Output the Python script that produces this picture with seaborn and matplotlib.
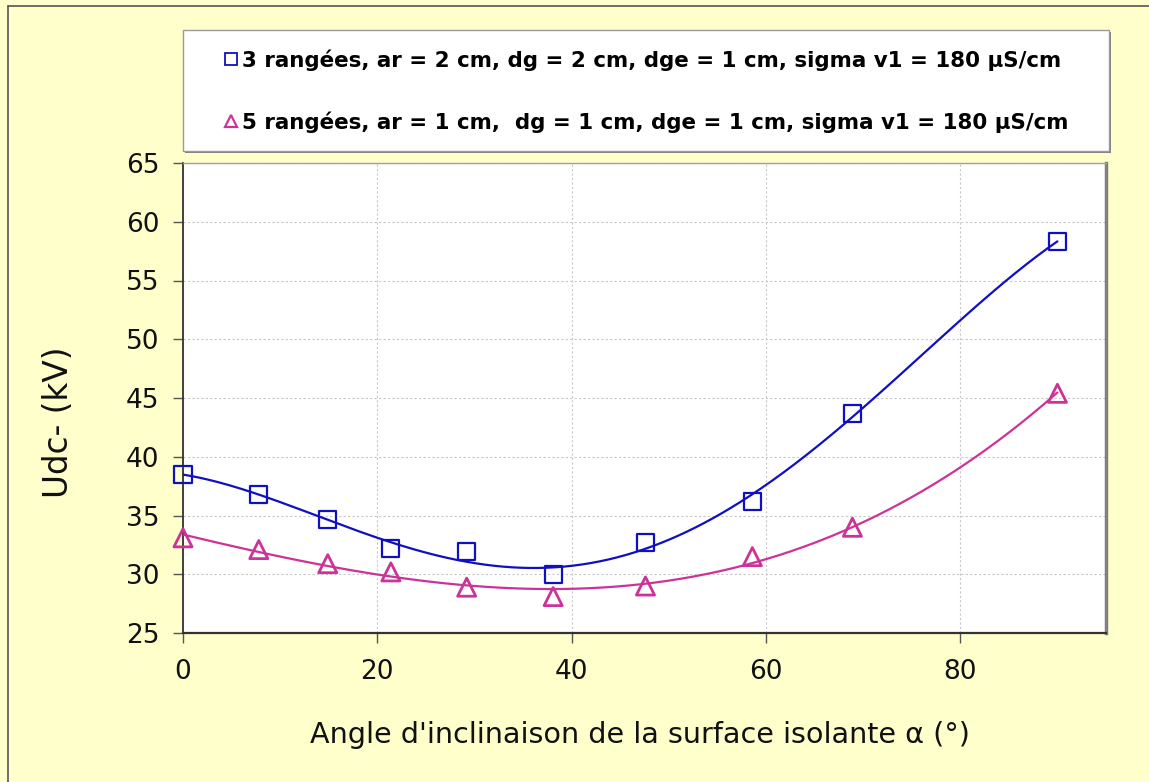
import numpy as np
import pandas as pd
import matplotlib
matplotlib.use("Agg")
import matplotlib.pyplot as plt
from matplotlib.patches import Rectangle
from matplotlib.lines import Line2D
import seaborn as sns

# Measured breakdown voltage versus inclination angle
angle = [0, 7.8, 14.9, 21.4, 29.2, 38.1, 47.6, 58.6, 68.9, 90]
udc_3r = [38.5, 36.8, 34.7, 32.15, 31.9, 30.0, 32.7, 36.2, 43.7, 58.3]
udc_5r = [33.1, 32.1, 30.9, 30.2, 28.9, 28.1, 29.0, 31.5, 34.0, 45.4]

label_3r = "3 rangées, ar = 2 cm, dg = 2 cm, dge = 1 cm, sigma v1 = 180 µS/cm"
label_5r = "5 rangées, ar = 1 cm,  dg = 1 cm, dge = 1 cm, sigma v1 = 180 µS/cm"

xticks = [0, 20, 40, 60, 80]
yticks = [25, 30, 35, 40, 45, 50, 55, 60, 65]

blue = "#1010C0"
magenta = "#CC3399"
bg = "#FFFFCC"

sns.set_style("white")
plt.rcParams["font.family"] = ["DejaVu Sans"]

W, H = 1149, 782
fig = plt.figure(figsize=(W / 100, H / 100), dpi=100, facecolor=bg)

def fx(px):
    return px / W

def fy(py):
    return 1 - py / H

# outer frame of the chart area (left and top edges)
fig.lines.append(Line2D([fx(8), fx(8)], [0, fy(6)], transform=fig.transFigure,
                        color="#555555", linewidth=1.2))
fig.lines.append(Line2D([fx(8), 1.05], [fy(6), fy(6)], transform=fig.transFigure,
                        color="#555555", linewidth=1.2))

ax = fig.add_axes([fx(183), fy(633), fx(1106) - fx(183), fy(163) - fy(633)])
ax.set_facecolor("white")

df3 = pd.DataFrame({"angle": angle, "udc": udc_3r})
df5 = pd.DataFrame({"angle": angle, "udc": udc_5r})

# polynomial trend lines through the measurements
xs = np.linspace(0, 90, 400)
fit3 = np.polyval(np.polyfit(angle, udc_3r, 4), xs)
fit5 = np.polyval(np.polyfit(angle, udc_5r, 3), xs)

sns.lineplot(x=xs, y=fit3, ax=ax, color=blue, linewidth=1.6, zorder=3)
sns.lineplot(x=xs, y=fit5, ax=ax, color=magenta, linewidth=1.6, zorder=3)

sns.scatterplot(data=df3, x="angle", y="udc", ax=ax, marker="s", s=150,
                facecolor="none", edgecolor=blue, linewidth=1.6, zorder=4,
                clip_on=False)
sns.scatterplot(data=df5, x="angle", y="udc", ax=ax, marker="^", s=170,
                facecolor="none", edgecolor=magenta, linewidth=2.0, zorder=4,
                clip_on=False)

ax.set_xlim(0, 95)
ax.set_ylim(25, 65)
ax.set_xticks(xticks)
ax.set_yticks(yticks)
ax.set_xlabel("")
ax.set_ylabel("")
ax.grid(True, color="#c8c8c8", linestyle=(0, (2, 2)), linewidth=0.8)
ax.set_axisbelow(True)

ax.tick_params(axis="both", which="major", direction="out", length=7,
               width=1, color="#555555", labelsize=19, labelcolor="#111111",
               left=True, bottom=True)
ax.tick_params(axis="y", pad=10)
ax.tick_params(axis="x", pad=12)

ax.spines["left"].set_color("#333333")
ax.spines["left"].set_linewidth(1.3)
ax.spines["bottom"].set_color("#333333")
ax.spines["bottom"].set_linewidth(1.6)
ax.spines["top"].set_color("#a0a0a0")
ax.spines["top"].set_linewidth(1.0)
ax.spines["right"].set_color("#808080")
ax.spines["right"].set_linewidth(2.5)

fig.text(fx(58), fy(422), "Udc- (kV)", rotation=90, ha="center", va="center",
         fontsize=23.5, color="#111111")
fig.text(fx(640), fy(735), "Angle d'inclinaison de la surface isolante α (°)",
         ha="center", va="center", fontsize=20.6, color="#111111")

# legend box above the plot
fig.patches.append(Rectangle((fx(185), fy(153)), fx(1109) - fx(183), fy(30) - fy(151),
                             transform=fig.transFigure, facecolor="#808080",
                             edgecolor="none", zorder=1))
fig.patches.append(Rectangle((fx(183), fy(151)), fx(1109) - fx(183), fy(30) - fy(151),
                             transform=fig.transFigure, facecolor="white",
                             edgecolor="#9a9a9a", linewidth=1.0, zorder=2))

handles = [
    Line2D([], [], linestyle="none", marker="s", markersize=8,
           markerfacecolor="none", markeredgecolor=blue, markeredgewidth=1.3),
    Line2D([], [], linestyle="none", marker="^", markersize=8,
           markerfacecolor="none", markeredgecolor=magenta, markeredgewidth=1.6),
]
leg = fig.legend(handles, [label_3r, label_5r], loc="center",
                 bbox_to_anchor=(fx(646), fy(91)), frameon=False,
                 prop={"weight": "bold", "size": 15.4}, handlelength=0.7,
                 handletextpad=0.2, labelspacing=1.9, labelcolor="black")
leg.set_zorder(5)

fig.savefig("out.png", dpi=100, facecolor=bg)
